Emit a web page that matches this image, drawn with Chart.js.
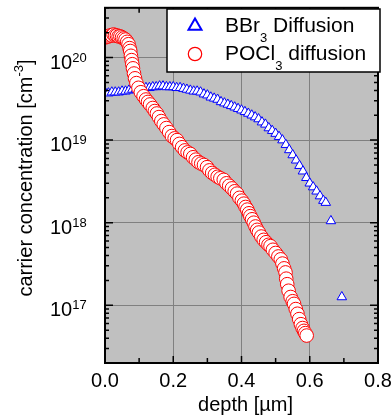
<!DOCTYPE html>
<html>
<head>
<meta charset="utf-8">
<script src="https://cdn.jsdelivr.net/npm/chart.js"></script>
<style>
  body { margin: 0; background: #fff; }
  #wrap { width: 392px; height: 416px; }
</style>
</head>
<body>
<div id="wrap"><canvas id="profile" width="392" height="416"></canvas></div>
<script>
// BBr3 diffusion profile (depth in um, concentration in cm^-3)
const depthB = [0.000, 0.010, 0.020, 0.030, 0.040, 0.050, 0.060, 0.070, 0.080, 0.090,
  0.100, 0.110, 0.120, 0.130, 0.140, 0.150, 0.160, 0.170, 0.180, 0.190,
  0.200, 0.210, 0.220, 0.230, 0.240, 0.250, 0.260, 0.270, 0.280, 0.290,
  0.300, 0.310, 0.320, 0.330, 0.340, 0.350, 0.360, 0.370, 0.380, 0.390,
  0.400, 0.410, 0.420, 0.430, 0.440, 0.450, 0.460, 0.470, 0.480, 0.490,
  0.500, 0.510, 0.520, 0.530, 0.540, 0.550, 0.560, 0.570, 0.580, 0.590,
  0.600, 0.610, 0.620, 0.630, 0.640, 0.647, 0.662, 0.694];
const concB = [3.8e19, 3.7e19, 3.8e19, 3.8e19, 3.8e19, 3.9e19, 3.9e19, 4.0e19, 4.1e19, 4.1e19,
  4.2e19, 4.2e19, 4.3e19, 4.3e19, 4.4e19, 4.4e19, 4.5e19, 4.5e19, 4.4e19, 4.4e19,
  4.4e19, 4.3e19, 4.3e19, 4.2e19, 4.1e19, 4.0e19, 3.9e19, 3.9e19, 3.8e19, 3.6e19,
  3.5e19, 3.3e19, 3.2e19, 3.1e19, 2.9e19, 2.8e19, 2.7e19, 2.6e19, 2.5e19, 2.4e19,
  2.3e19, 2.2e19, 2.1e19, 2.0e19, 1.9e19, 1.8e19, 1.65e19, 1.55e19, 1.4e19, 1.3e19,
  1.2e19, 1.1e19, 1.0e19, 8.8e18, 7.6e18, 6.6e18, 5.7e18, 4.9e18, 4.2e18, 3.5e18,
  3.0e18, 2.7e18, 2.4e18, 2.1e18, 1.85e18, 1.75e18, 1.05e18, 1.26e17];

// POCl3 diffusion profile
const depthP = [0.000, 0.005, 0.010, 0.015, 0.020, 0.025, 0.030, 0.035, 0.040, 0.045,
  0.050, 0.055, 0.060, 0.065, 0.069, 0.072, 0.074, 0.076, 0.078, 0.080,
  0.082, 0.085, 0.088, 0.092, 0.098, 0.105, 0.113, 0.120, 0.126, 0.132,
  0.140, 0.146, 0.152, 0.158, 0.165, 0.172, 0.180, 0.188, 0.196, 0.204,
  0.211, 0.218, 0.226, 0.234, 0.242, 0.250, 0.258, 0.266, 0.274, 0.282,
  0.290, 0.299, 0.306, 0.314, 0.322, 0.330, 0.338, 0.348, 0.356, 0.364,
  0.372, 0.380, 0.387, 0.394, 0.401, 0.407, 0.412, 0.417, 0.422, 0.426,
  0.431, 0.436, 0.441, 0.446, 0.451, 0.458, 0.465, 0.472, 0.479, 0.485,
  0.492, 0.500, 0.508, 0.515, 0.520, 0.525, 0.529, 0.531, 0.534, 0.538,
  0.544, 0.550, 0.554, 0.559, 0.564, 0.569, 0.574, 0.579, 0.583, 0.587, 0.591];
const concP = [1.75e20, 1.8e20, 1.8e20, 1.85e20, 1.85e20, 1.9e20, 1.85e20, 1.85e20, 1.8e20, 1.8e20,
  1.75e20, 1.7e20, 1.65e20, 1.55e20, 1.45e20, 1.3e20, 1.2e20, 1.05e20, 9.3e19, 8.3e19,
  7.4e19, 6.4e19, 5.6e19, 4.9e19, 4.3e19, 3.8e19, 3.4e19, 3.1e19, 2.9e19, 2.7e19,
  2.45e19, 2.25e19, 2.1e19, 1.9e19, 1.7e19, 1.55e19, 1.4e19, 1.25e19, 1.12e19, 1.05e19,
  1.0e19, 9.0e18, 8.2e18, 7.5e18, 7.1e18, 6.8e18, 6.2e18, 5.8e18, 5.4e18, 5.2e18,
  5.0e18, 4.7e18, 4.3e18, 4.0e18, 3.8e18, 3.6e18, 3.45e18, 3.3e18, 3.0e18, 2.8e18,
  2.6e18, 2.4e18, 2.25e18, 2.0e18, 1.85e18, 1.7e18, 1.55e18, 1.44e18, 1.3e18, 1.2e18,
  1.1e18, 1.0e18, 9.0e17, 8.2e17, 7.6e17, 6.8e17, 6.2e17, 5.8e17, 5.4e17, 5.2e17,
  4.7e17, 4.3e17, 3.9e17, 3.6e17, 3.2e17, 2.8e17, 2.5e17, 2.1e17, 1.8e17, 1.5e17,
  1.26e17, 1.12e17, 1.04e17, 9.0e16, 7.9e16, 6.8e16, 5.9e16, 5.3e16, 4.9e16, 4.6e16, 4.3e16];

const xTicks = [0, 0.2, 0.4, 0.6, 0.8];
const xMinor = [0.1, 0.3, 0.5, 0.7];
const yDecades = [17, 18, 19, 20];
const yMin = 2e16, yMax = 4e20;

const FONT = '"Liberation Sans", Arial, Helvetica, sans-serif';

function drawParts(ctx, parts, x, y) {
  // parts: [text, size, dy]
  let cx = x;
  for (const [t, size, dy] of parts) {
    ctx.font = size + 'px ' + FONT;
    ctx.fillText(t, cx, y + dy);
    cx += ctx.measureText(t).width;
  }
  return cx - x;
}
function partsWidth(ctx, parts) {
  let w = 0;
  for (const [t, size] of parts) {
    ctx.font = size + 'px ' + FONT;
    w += ctx.measureText(t).width;
  }
  return w;
}

const framePlugin = {
  id: 'frame',
  beforeDraw(chart) {
    const ctx = chart.ctx;
    const a = chart.chartArea;
    ctx.save();
    ctx.fillStyle = '#ffffff';
    ctx.fillRect(0, 0, chart.width, chart.height);
    ctx.fillStyle = '#c0c0c0';
    ctx.fillRect(a.left, a.top, a.right - a.left, a.bottom - a.top);
    ctx.restore();
  },
  afterDraw(chart) {
    const ctx = chart.ctx;
    const {left, right, top, bottom} = chart.chartArea;
    const xs = chart.scales.x, ys = chart.scales.y;
    ctx.save();

    // tick marks (inside, all four sides)
    ctx.strokeStyle = '#000';
    ctx.lineWidth = 1.5;
    ctx.beginPath();
    xTicks.concat(xMinor).forEach(v => {
      const px = xs.getPixelForValue(v);
      const len = xMinor.includes(v) ? 5 : 7;
      ctx.moveTo(px, bottom); ctx.lineTo(px, bottom - len);
      ctx.moveTo(px, top); ctx.lineTo(px, top + len);
    });
    for (let d = 16; d <= 20; d++) {
      for (let m = 1; m <= 9; m++) {
        const v = m * Math.pow(10, d);
        if (v < yMin || v > yMax) continue;
        const py = ys.getPixelForValue(v);
        const len = m === 1 ? 8 : 4;
        ctx.moveTo(left, py); ctx.lineTo(left + len, py);
        ctx.moveTo(right, py); ctx.lineTo(right - len, py);
      }
    }
    ctx.stroke();

    // frame
    ctx.lineWidth = 2;
    ctx.strokeRect(left, top, right - left, bottom - top);

    // tick labels
    ctx.fillStyle = '#000';
    ctx.textBaseline = 'alphabetic';
    ctx.font = '20px ' + FONT;
    ctx.textAlign = 'center';
    xTicks.forEach(v => {
      ctx.fillText(v.toFixed(1), xs.getPixelForValue(v), 387);
    });
    ctx.textAlign = 'left';
    yDecades.forEach(d => {
      const py = ys.getPixelForValue(Math.pow(10, d));
      drawParts(ctx, [['10', 20, 11], [String(d), 13, 4]], 50, py);
    });

    // axis titles
    ctx.font = '20px ' + FONT;
    ctx.textAlign = 'center';
    ctx.fillText('depth [µm]', (left + right) / 2 + 4, 411);

    ctx.textAlign = 'left';
    const yTitle = [['carrier concentration [cm', 20, 0], ['-3', 13, -9], [']', 20, 0]];
    ctx.save();
    ctx.translate(32, 178);
    ctx.rotate(-Math.PI / 2);
    const w = partsWidth(ctx, yTitle);
    drawParts(ctx, yTitle, -w / 2, 0);
    ctx.restore();

    // legend
    ctx.fillStyle = '#fff';
    ctx.fillRect(167, 9, 213, 63);
    ctx.lineWidth = 1.5;
    ctx.strokeStyle = '#000';
    ctx.strokeRect(167, 9, 213, 63);

    // triangle marker
    ctx.beginPath();
    const r = 7.5, cx = 195, cy = 26;
    for (let i = 0; i < 3; i++) {
      const ang = i * 2 * Math.PI / 3;
      const px = cx + Math.sin(ang) * r, py = cy - Math.cos(ang) * r;
      if (i === 0) ctx.moveTo(px, py); else ctx.lineTo(px, py);
    }
    ctx.closePath();
    ctx.fill();
    ctx.strokeStyle = '#0000ff';
    ctx.lineWidth = 2;
    ctx.stroke();

    ctx.beginPath();
    ctx.arc(195, 54, 6.7, 0, Math.PI * 2);
    ctx.fillStyle = '#fff';
    ctx.fill();
    ctx.strokeStyle = '#ff0000';
    ctx.lineWidth = 1.2;
    ctx.stroke();

    ctx.fillStyle = '#000';
    drawParts(ctx, [['BBr', 21, 0], ['3', 13, 10], [' Diffusion', 21, 0]], 225, 32);
    drawParts(ctx, [['POCl', 21, 0], ['3', 13, 10], [' diffusion', 21, 0]], 225, 60);

    ctx.restore();
  }
};

const ctx = document.getElementById('profile').getContext('2d');

new Chart(ctx, {
  type: 'scatter',
  data: {
    datasets: [
      {
        label: 'BBr3 Diffusion',
        data: depthB.map((d, i) => ({x: d, y: concB[i]})),
        pointStyle: 'triangle',
        pointRadius: 5.5,
        pointBorderWidth: 1,
        borderColor: '#0000ff',
        backgroundColor: '#ffffff',
        order: 2,
        clip: 0
      },
      {
        label: 'POCl3 diffusion',
        data: depthP.map((d, i) => ({x: d, y: concP[i]})),
        pointStyle: 'circle',
        pointRadius: 6.8,
        pointBorderWidth: 1,
        borderColor: '#ff0000',
        backgroundColor: '#ffffff',
        order: 1,
        clip: 0
      }
    ]
  },
  options: {
    responsive: false,
    animation: false,
    layout: { padding: { top: 7, right: 14, left: 0, bottom: 0 } },
    plugins: {
      legend: { display: false },
      tooltip: { enabled: false }
    },
    scales: {
      x: {
        type: 'linear',
        min: 0,
        max: 0.8,
        ticks: { display: false, stepSize: 0.2 },
        grid: { color: '#808080', lineWidth: 1, drawTicks: false },
        border: { display: false },
        afterFit(scale) { scale.height = 53; }
      },
      y: {
        type: 'logarithmic',
        min: yMin,
        max: yMax,
        ticks: { display: false },
        grid: { color: '#808080', lineWidth: 1, drawTicks: false },
        border: { display: false },
        afterBuildTicks(scale) {
          scale.ticks = yDecades.map(d => ({ value: Math.pow(10, d) }));
        },
        afterFit(scale) { scale.width = 105; }
      }
    }
  },
  plugins: [framePlugin]
});
</script>
</body>
</html>
